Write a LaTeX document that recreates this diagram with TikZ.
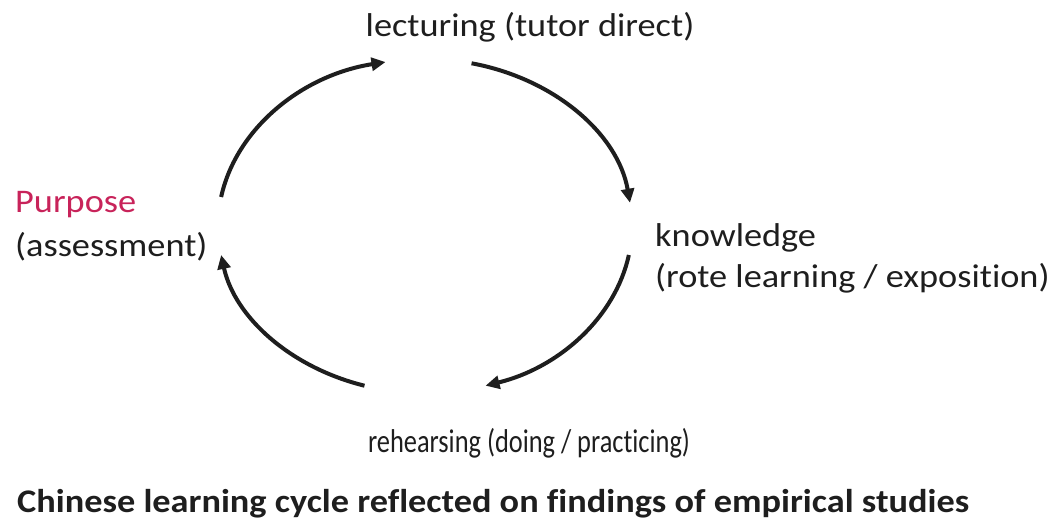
\documentclass[tikz,border=0pt]{standalone}
\usepackage{fontspec}
\usepackage{graphicx}
\setmainfont{Carlito}[FakeStretch=1.1, Ligatures=NoCommon]
\usetikzlibrary{arrows.meta,calc}
\definecolor{txt}{RGB}{30,30,30}
\definecolor{purp}{RGB}{200,35,90}
\tikzset{
  lbl/.style={inner sep=0pt, text=txt, font=\fontsize{33}{40}\selectfont, align=left},
  cyc/.style={line width=4pt, draw=txt, -{Triangle[length=14pt,width=13pt]}},
}
\begin{document}
\begin{tikzpicture}[x=1pt,y=1pt]
\useasboundingbox (0,0) rectangle (1063,525);
\coordinate (c) at (425,299);
% text nodes
\node[lbl, anchor=base] (lect) at (530,488) {lecturing (tutor direct)};
\node[lbl, anchor=base west] (purp) at (15,312) {\textcolor{purp}{Purpose}};
\node[lbl, anchor=base west] (assess) at (15,268) {(assessment)};
\node[lbl, anchor=base west] (know) at (655,278) {knowledge};
\node[lbl, anchor=base west] (rote) at (655,237) {(rote learning / exposition)};
\node[lbl, anchor=base] (reh) at (529,72) {\scalebox{0.727}[1]{rehearsing (doing / practicing)}};
\node[lbl, anchor=base west, font=\bfseries\fontsize{33}{40}\selectfont] (cap) at (17,13) {Chinese learning cycle reflected on findings of empirical studies};
% arc endpoints
\coordinate (a1) at ($(c)+(170:207 and 167)$);
\coordinate (a2) at ($(c)+(77:207 and 167)$);
\coordinate (a3) at ($(c)+(-10:207 and 167)$);
\coordinate (a4) at ($(c)+(-107:207 and 167)$);
\draw[cyc] (a1) arc[start angle=170, end angle=101, x radius=207, y radius=167];
\draw[cyc] (a2) arc[start angle=77, end angle=8, x radius=207, y radius=167];
\draw[cyc] (a3) arc[start angle=-10, end angle=-73, x radius=207, y radius=167];
\draw[cyc] (a4) arc[start angle=-107, end angle=-170, x radius=207, y radius=167];
\end{tikzpicture}
\end{document}
